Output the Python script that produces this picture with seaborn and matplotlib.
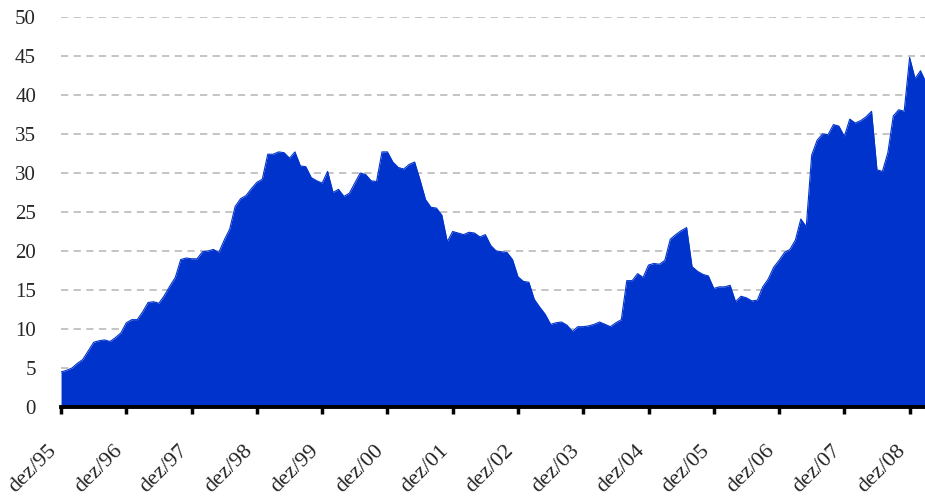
import numpy as np
import pandas as pd
import seaborn as sns
import matplotlib.pyplot as plt
from matplotlib.transforms import ScaledTranslation

# monthly series, dez/95 .. mar/09
values = [
    4.5, 4.7, 5.0, 5.6, 6.1, 7.2, 8.3, 8.5, 8.6, 8.4, 8.9, 9.5,
    10.8, 11.2, 11.2, 12.2, 13.4, 13.5, 13.3, 14.3, 15.5, 16.6, 18.9, 19.1,
    19.0, 19.0, 19.9, 20.0, 20.2, 19.8, 21.4, 22.8, 25.7, 26.7, 27.1, 28.0,
    28.8, 29.2, 32.4, 32.4, 32.7, 32.6, 31.9, 32.7, 30.9, 30.8, 29.4, 29.0,
    28.7, 30.2, 27.5, 27.9, 27.0, 27.4, 28.7, 30.0, 29.8, 29.0, 28.9, 32.7,
    32.7, 31.4, 30.7, 30.5, 31.1, 31.4, 29.1, 26.6, 25.6, 25.5, 24.6, 21.2,
    22.5, 22.3, 22.1, 22.4, 22.3, 21.8, 22.1, 20.7, 20.0, 19.9, 19.8, 18.9,
    16.7, 16.1, 16.0, 13.8, 12.8, 11.9, 10.6, 10.8, 10.9, 10.5, 9.7, 10.3,
    10.3, 10.4, 10.6, 10.9, 10.6, 10.3, 10.8, 11.2, 16.2, 16.2, 17.1, 16.6,
    18.2, 18.4, 18.3, 18.8, 21.5, 22.1, 22.6, 23.0, 18.0, 17.4, 17.0, 16.8,
    15.2, 15.4, 15.4, 15.6, 13.5, 14.2, 14.0, 13.6, 13.7, 15.4, 16.4, 17.9,
    18.8, 19.8, 20.2, 21.4, 24.1, 23.1, 32.3, 34.2, 35.0, 34.9, 36.2, 36.0,
    34.7, 36.9, 36.4, 36.7, 37.2, 37.9, 30.4, 30.2, 32.6, 37.3, 38.1, 37.9,
    44.8, 42.1, 43.1, 41.6,
]
tick_labels = ['dez/95', 'dez/96', 'dez/97', 'dez/98', 'dez/99', 'dez/00', 'dez/01',
               'dez/02', 'dez/03', 'dez/04', 'dez/05', 'dez/06', 'dez/07', 'dez/08']
y_ticks = [0, 5, 10, 15, 20, 25, 30, 35, 40, 45, 50]

FILL = '#0033CC'

sns.set_style('white')
plt.rcParams['font.family'] = ['Liberation Serif', 'DejaVu Serif']

df = pd.DataFrame({'month': np.arange(len(values)), 'value': values})

fig = plt.figure(figsize=(9.25, 4.97), dpi=100)
ax = fig.add_axes([0.066, 0.181, 0.935, 0.785])

sns.lineplot(data=df, x='month', y='value', color=FILL, linewidth=0.8, ax=ax)
ax.fill_between(df['month'], df['value'], 0, color=FILL, linewidth=0)

ax.set_xlim(0, len(values) - 1)
ax.set_ylim(0, 50)
ax.set_yticks(y_ticks)
ax.set_xticks(np.arange(0, len(values), 12))
ax.set_xticklabels(tick_labels, rotation=45, ha='right')

# nudge the slanted labels a little to the right, as in the original
shift = ScaledTranslation(4 / 100, 0, fig.dpi_scale_trans)
for lbl in ax.get_xticklabels():
    lbl.set_transform(lbl.get_transform() + shift)

ax.yaxis.grid(True, color='#BFBFBF', linestyle=(0, (4, 3)), linewidth=1.3)
ax.set_axisbelow(True)
for side in ['left', 'right', 'top']:
    ax.spines[side].set_visible(False)
ax.spines['bottom'].set_linewidth(2.8)
ax.spines['bottom'].set_color('black')
ax.spines['bottom'].set_zorder(5)

ax.tick_params(axis='x', bottom=True, direction='out', length=5, width=2.5,
               color='black', labelsize=16, pad=20)
ax.tick_params(axis='y', left=False, length=0, labelsize=15, pad=18)
ax.set_xlabel('')
ax.set_ylabel('')

fig.savefig('out.png', dpi=100)
